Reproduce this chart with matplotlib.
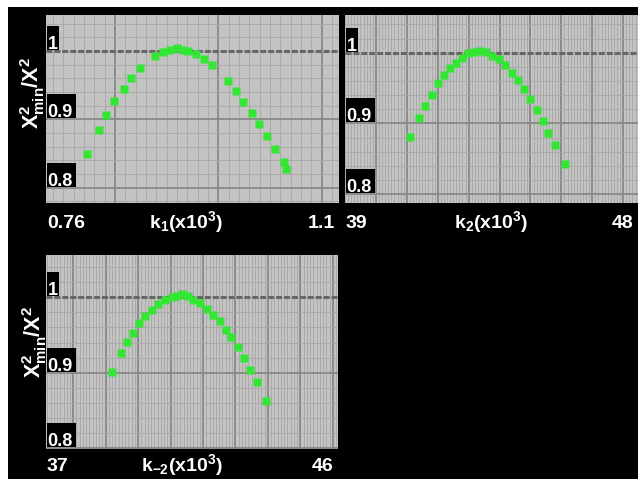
import matplotlib
matplotlib.use('Agg')
import matplotlib.pyplot as plt
import matplotlib.transforms as mtrans
from matplotlib.patches import Rectangle
import numpy as np

plt.rcParams['font.family'] = ['Liberation Sans', 'DejaVu Sans']
plt.rcParams['font.weight'] = 'bold'
plt.rcParams['mathtext.fontset'] = 'custom'
plt.rcParams['mathtext.rm'] = 'Liberation Sans:bold'
plt.rcParams['mathtext.it'] = 'Liberation Sans:bold'
plt.rcParams['mathtext.bf'] = 'Liberation Sans:bold'
plt.rcParams['lines.scale_dashes'] = False

# data
k1 = [0.807, 0.821, 0.830, 0.839, 0.850, 0.859, 0.869, 0.887, 0.896, 0.904,
      0.912, 0.919, 0.925, 0.934, 0.943, 0.953, 0.971, 0.980, 0.989, 0.999,
      1.007, 1.017, 1.026, 1.036, 1.039]
k1_ratio = [0.850, 0.885, 0.906, 0.927, 0.944, 0.961, 0.975, 0.993, 0.999, 1.002,
            1.004, 1.002, 1.000, 0.995, 0.988, 0.980, 0.956, 0.942, 0.926, 0.910,
            0.893, 0.876, 0.857, 0.838, 0.827]

k2 = [41.10, 41.40, 41.59, 41.81, 42.00, 42.21, 42.40, 42.59, 42.78, 42.97,
      43.17, 43.37, 43.56, 43.77, 43.98, 44.18, 44.39, 44.61, 44.80, 44.99,
      45.20, 45.42, 45.58, 45.80, 46.12]
k2_ratio = [0.881, 0.908, 0.925, 0.940, 0.957, 0.969, 0.979, 0.986, 0.993, 0.999,
            1.001, 1.003, 1.001, 0.996, 0.991, 0.982, 0.972, 0.961, 0.948, 0.935,
            0.919, 0.904, 0.887, 0.870, 0.842]

km2 = [39.03, 39.31, 39.49, 39.69, 39.88, 40.05, 40.26, 40.46, 40.67, 40.87,
       41.03, 41.18, 41.37, 41.54, 41.75, 41.95, 42.16, 42.36, 42.55, 42.70,
       42.91, 43.11, 43.29, 43.49, 43.78]
km2_ratio = [0.901, 0.926, 0.941, 0.953, 0.966, 0.975, 0.983, 0.991, 0.996, 1.000,
             1.002, 1.004, 1.002, 0.997, 0.992, 0.985, 0.977, 0.969, 0.957, 0.947,
             0.934, 0.919, 0.904, 0.888, 0.863]

W, H = 638, 479
fig = plt.figure(figsize=(W / 100, H / 100), dpi=100, facecolor='white')
fig.patches.append(Rectangle((8 / W, 0), 1, (H - 7) / H, transform=fig.transFigure,
                             fc='black', ec='none', zorder=-10))

GREEN = '#33e633'


def panel(box, x, y, xlim, ylim, xmajor, xlab, lab_lo, lab_hi, lab_cx, drop):
    left, right, top, bottom = box
    ax = fig.add_axes([left / W, 1 - bottom / H, (right - left) / W, (bottom - top) / H])
    ax.set_facecolor('#c3c3c3')
    for s in ax.spines.values():
        s.set_visible(False)

    # graph paper grid, ten fine lines per major cell
    step = xmajor[1] - xmajor[0]
    minors = np.arange(xmajor[0] - 3 * step, xmajor[-1] + 3 * step, step / 10)
    ax.set_xticks(xmajor)
    ax.set_xticks(minors, minor=True)
    ax.set_yticks([0.8, 0.9])
    ax.set_yticks(np.arange(0.70, 1.10, 0.02), minor=True)
    ax.set_xlim(xlim)
    ax.set_ylim(ylim)
    ax.tick_params(which='both', length=0, labelbottom=False, labelleft=False)
    ax.grid(which='minor', color='#a7a7a7', lw=0.6)
    ax.grid(which='major', color='#888888', lw=1.3)
    ax.set_axisbelow(True)
    ax.axhline(1.0, color='#666666', lw=2.2, dashes=(4.3, 1.4), zorder=2)

    # y labels inside the plot on black boxes
    axw = right - left
    axh = bottom - top
    ppu = axh / (ylim[1] - ylim[0])
    blend = mtrans.blended_transform_factory(ax.transAxes, ax.transData)
    for v, lab in [(1.0, '1'), (0.9, '0.9'), (0.8, '0.8')]:
        bw = 12 if lab == '1' else 29
        ax.add_patch(Rectangle((1 / axw, v + 1 / ppu), bw / axw, 24 / ppu,
                               transform=blend, fc='black', ec='none', zorder=3))
        ax.text(1.5 / axw, v + 2 / ppu, lab, transform=blend, color='white',
                fontsize=13, fontweight='bold', ha='left', va='baseline', zorder=4)

    ax.plot(x, y, 's', color=GREEN, ms=5.2, mec='none', zorder=5)

    ax.annotate(lab_lo, xy=(0, 0), xycoords='axes fraction', xytext=(1, -drop),
                textcoords='offset pixels', color='white', fontsize=14,
                ha='left', va='baseline')
    ax.annotate(lab_hi, xy=(1, 0), xycoords='axes fraction', xytext=(-4, -drop),
                textcoords='offset pixels', color='white', fontsize=14,
                ha='right', va='baseline')
    ax.annotate(xlab, xy=((lab_cx - left) / axw, 0), xycoords='axes fraction',
                xytext=(0, -drop), textcoords='offset pixels', color='white',
                fontsize=14, ha='center', va='baseline')
    return ax


panel((46, 339, 15, 203), k1, k1_ratio, (0.76, 1.1), (0.7776, 1.0527),
      [0.84, 0.96, 1.08], r'k$_\mathrm{1}$(x10$^\mathrm{3}$)', '0.76', '1.1', 186, 25)
panel((345, 638, 15, 203), k2, k2_ratio, (39, 48.48), (0.7873, 1.0534),
      list(range(40, 49)), r'k$_\mathrm{2}$(x10$^\mathrm{3}$)', '39', '48', 491, 25)
panel((46, 338, 255, 449), km2, km2_ratio, (37, 46), (0.7988, 1.0561),
      [37.84 + i for i in range(9)], r'k$_\mathrm{-2}$(x10$^\mathrm{3}$)', '37', '46', 182, 22)

ylab = r'$\mathrm{X^2_{min}/X^2}$'
fig.text(33 / W, 1 - 93 / H, ylab, rotation=90, color='white', fontsize=15.5,
         ha='center', va='center')
fig.text(35 / W, 1 - 342 / H, ylab, rotation=90, color='white', fontsize=15.5,
         ha='center', va='center')

fig.savefig('out.png', dpi=100, facecolor=fig.get_facecolor())
